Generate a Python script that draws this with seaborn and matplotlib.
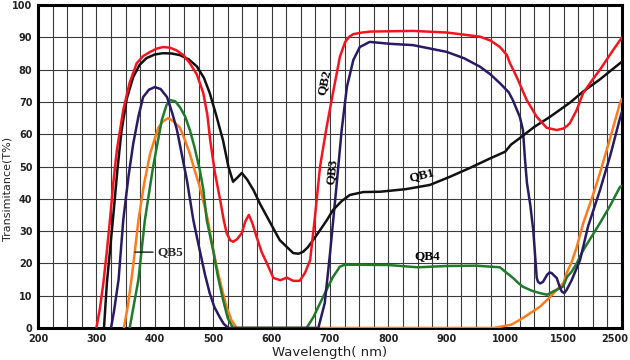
import numpy as np
import pandas as pd
import matplotlib
matplotlib.use("Agg")
import matplotlib.pyplot as plt
import matplotlib.transforms as mtransforms
import seaborn as sns
from matplotlib.ticker import FixedLocator, NullFormatter

# =====================================================
# Data
# =====================================================

qb1_wl = [313, 318, 328, 336, 343, 352, 363, 374, 386, 400, 414, 429, 443, 458,
          472, 484, 494, 505, 517, 526, 534, 541, 549, 558, 569, 580, 592, 614,
          637, 646, 654, 662, 671, 683, 695, 705, 720, 734, 757, 786, 830,
          871, 905, 940, 974, 1000, 1050, 1125, 1250, 1384, 1610, 1833, 2123, 2500]
qb1_t = [0, 14, 33, 49, 61, 71, 77.7, 81.5, 83.6, 84.7, 85.1, 85, 84.5, 83.2,
         81, 77.5, 72.8, 66, 58, 50, 45.3, 46.5, 48, 46, 42.7, 38.5, 34.5, 27.2,
         23.2, 23, 23.6, 25, 27.2, 30.3, 33.5, 36.5, 39.3, 41.2, 42.1, 42.2, 43,
         44.3, 46.8, 49.6, 52.5, 54.6, 56.8, 58.8, 62.3, 65.4, 69.8, 73.2, 77, 82.5]

qb2_wl = [300, 306, 312, 318, 323, 329, 335, 346, 357, 369, 380, 392, 403, 414,
          426, 437, 449, 460, 472, 483, 490, 495, 503, 512, 518, 523, 529, 534,
          541, 549, 555, 561, 567, 574, 583, 592, 603, 615, 626, 637, 648, 657,
          666, 674, 683, 694, 705, 717, 726, 733, 740, 755, 770, 842, 900, 957,
          975, 991, 1015, 1040, 1075, 1110, 1184, 1270, 1355, 1441, 1500, 1560,
          1610, 1724, 1833, 2000, 2123, 2346, 2500]
qb2_t = [0, 6, 14, 24, 33, 45, 55, 67.5, 76, 82, 84.2, 85.5, 86.5, 87,
         86.8, 86, 84.5, 82, 78.5, 72.8, 66, 58, 48, 39.6, 33.5, 29.4, 27.2, 26.7,
         27.5, 29.4, 33, 35, 32.5, 28.4, 23.5, 20, 15.5, 14.8, 15.6, 14.6, 14.6, 17,
         21, 34, 50, 62, 72.7, 84, 88.6, 90.2, 91, 91.5, 91.8, 92, 91.5, 90.2,
         89, 87, 84.5, 82, 79.5, 76.8, 70.6, 65.4, 62, 61.3, 61.8, 62.6,
         63.5, 67.5, 72.7, 77, 80, 86, 90]

qb3_wl = [325, 330, 338, 346, 355, 363, 372, 380, 390, 400, 410, 421, 430, 438,
          446, 455, 466, 477, 486, 494, 502, 511, 518, 526, 680, 691, 700, 711,
          720, 729, 740, 751, 768, 803, 842, 900, 930, 957, 975, 991, 1030, 1065,
          1125, 1152, 1170, 1186, 1215, 1241, 1255, 1270, 1281, 1300, 1324, 1359,
          1380, 1398, 1420, 1441, 1464, 1484, 1510, 1552, 1638, 1781, 1918, 2123,
          2300, 2466, 2500]
qb3_t = [0, 5, 15, 33.4, 47, 57, 65.5, 71.5, 73.8, 74.6, 74, 71.5, 66.5, 61.3,
         54, 45.8, 33.4, 24, 16.5, 10.8, 6.5, 3.4, 1.3, 0, 0, 7.7, 23, 43.7,
         61.3, 74.7, 83, 87, 88.6, 88, 87.6, 85.5, 83.5, 80.9, 78.5, 75.8, 73, 70.6,
         65.4, 61.3, 52, 45, 38, 30, 23, 15.5, 14.3, 13.8, 14.3, 16.5,
         17.2, 17, 16.2, 15.5, 13, 11.3, 10.8, 11.8, 14.8, 21, 31.4, 42.7,
         53.5, 65, 67]

qb4_wl = [357, 363, 372, 383, 397, 412, 420, 426, 435, 443, 452, 460, 468, 477,
          483, 489, 500, 508, 517, 525, 534, 660, 672, 683, 694, 705, 717, 724,
          730, 800, 850, 900, 950, 991, 1015, 1040, 1067, 1110, 1150, 1230, 1298,
          1360, 1410, 1450, 1495, 1558, 1640, 1724, 1833, 1952, 2123, 2300, 2466,
          2500]
qb4_t = [0, 6, 15, 33.4, 49.8, 64.4, 69, 70.6, 70.2, 68.4, 65.5, 61.3, 56, 49,
         43, 33.4, 24, 16, 8.7, 3, 0, 0, 3.5, 7.7, 11.8, 15.8, 19, 19.5,
         19.6, 19.5, 18.8, 19.2, 19.3, 18.8, 17, 16.3, 15.5, 14, 12.8, 11.5, 10.8,
         10.3, 11.3, 12, 12.8, 15.8, 17.5, 20, 24, 27.5, 32.5, 38, 43.7,
         44]

qb5_wl = [347, 354, 360, 366, 372, 382, 392, 406, 414, 423, 432, 443, 451, 460,
          468, 477, 491, 498, 506, 515, 523, 531, 540, 980, 1050, 1125, 1210, 1298,
          1384, 1441, 1500, 1552, 1640, 1724, 1837, 2000, 2123, 2300, 2466, 2500]
qb5_t = [0, 7, 15, 24, 33.4, 45, 54, 62, 64, 65, 64, 62, 58.5, 54,
         49, 43.7, 33.4, 26, 19, 12, 6.5, 2.5, 0, 0, 1, 2.5, 4.5, 6.6,
         9.6, 11.8, 14, 17, 20.5, 25, 32.5, 41, 48, 59, 69.6, 71]

series_names = ["QB1", "QB2", "QB3", "QB4", "QB5"]
series_colors = {
    "QB1": "#111111",
    "QB2": "#f5141e",
    "QB3": "#2a1a66",
    "QB4": "#1f7a2a",
    "QB5": "#ff7a1a",
}

x_ticks = [200, 300, 400, 500, 600, 700, 800, 900, 1000, 1500, 2500]

# broken wavelength axis: 200-1000 evenly, then 1000-1500 and 1500-2500 squeezed
break_wl = [200, 1000, 1500, 2500]
break_pos = [0, 8, 9, 10]


def forward(x):
    x = np.asarray(x, dtype=float)
    p = np.interp(x, break_wl, break_pos)
    p = np.where(x < 200, (x - 200) / 100.0, p)
    p = np.where(x > 2500, 10 + (x - 2500) / 1000.0, p)
    return p


def inverse(p):
    p = np.asarray(p, dtype=float)
    x = np.interp(p, break_pos, break_wl)
    x = np.where(p < 0, 200 + p * 100.0, x)
    x = np.where(p > 10, 2500 + (p - 10) * 1000.0, x)
    return x


frames = []
for name, wl, t in zip(series_names,
                       [qb1_wl, qb2_wl, qb3_wl, qb4_wl, qb5_wl],
                       [qb1_t, qb2_t, qb3_t, qb4_t, qb5_t]):
    frames.append(pd.DataFrame({"wavelength": wl, "T": t, "series": name}))
df = pd.concat(frames, ignore_index=True)

# =====================================================
# Plot
# =====================================================

sns.set_style("white")
plt.rcParams["font.family"] = ["DejaVu Sans"]

fig = plt.figure(figsize=(6.3, 3.6), dpi=100)
ax = fig.add_axes([0.0603, 0.0889, 0.927, 0.897])

sns.lineplot(
    data=df,
    x="wavelength",
    y="T",
    hue="series",
    hue_order=["QB5", "QB4", "QB3", "QB1", "QB2"],
    palette=series_colors,
    sort=False,
    estimator=None,
    linewidth=1.8,
    legend=False,
    ax=ax,
    zorder=3,
)

ax.set_xscale("function", functions=(forward, inverse))
ax.set_xlim(200, 2500)
ax.set_ylim(0, 100)

ax.xaxis.set_major_locator(FixedLocator(x_ticks))
ax.set_xticklabels([str(v) for v in x_ticks])
ax.xaxis.set_minor_locator(FixedLocator(inverse(np.arange(0, 10.01, 0.25))))
ax.xaxis.set_minor_formatter(NullFormatter())
ax.set_yticks(np.arange(0, 101, 10))

ax.grid(which="both", axis="x", color="#3a3a3a", linewidth=0.8)
ax.grid(which="major", axis="y", color="#3a3a3a", linewidth=0.8)
ax.set_axisbelow(True)

ax.tick_params(axis="both", which="both", length=0)
ax.tick_params(axis="x", labelsize=7, pad=4)
ax.tick_params(axis="y", labelsize=7, pad=4)
for lbl in ax.get_xticklabels() + ax.get_yticklabels():
    lbl.set_fontweight("bold")
    lbl.set_color("#222222")

# pull the last x label in so it stays inside the picture
last = ax.get_xticklabels()[-1]
last.set_transform(last.get_transform() +
                   mtransforms.ScaledTranslation(-5 / 72, 0, fig.dpi_scale_trans))

for sp in ax.spines.values():
    sp.set_visible(True)
    sp.set_linewidth(2.2)
    sp.set_color("black")

ax.set_xlabel("Wavelength( nm)", fontsize=9.5, labelpad=2, color="#222222")
ax.set_ylabel("Transimitance(T%)", fontsize=8, color="#222222")
ax.yaxis.set_label_coords(-0.043, 0.43)

# curve labels
lab = dict(fontsize=9.5, fontweight="bold", family="Liberation Serif",
           color="black", ha="center", va="center")
ax.text(690, 76, "QB2", rotation=78, **lab)
ax.text(703, 48.4, "QB3", rotation=84, **lab)
ax.text(857, 47.4, "QB1", rotation=14, **lab)
ax.text(866, 22.3, "QB4", **lab)
ax.annotate("QB5", xy=(366, 23.5), xytext=(405, 23.5),
            fontsize=9.5, fontweight="bold", family="Liberation Serif",
            ha="left", va="center",
            arrowprops=dict(arrowstyle="-", color="black", lw=0.9,
                            shrinkA=1, shrinkB=0))

fig.savefig("out.png", dpi=100, facecolor="white")
